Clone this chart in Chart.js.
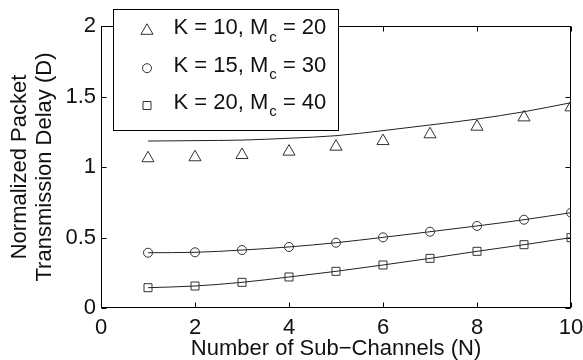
<!DOCTYPE html>
<html>
<head>
<meta charset="utf-8">
<script src="https://cdn.jsdelivr.net/npm/chart.js@4/dist/chart.umd.min.js"></script>
<style>
  html, body { margin: 0; padding: 0; background: #fff; }
  #wrap { width: 583px; height: 360px; position: relative; }
</style>
</head>
<body>
<div id="wrap"><canvas id="c"></canvas></div>
<script>
// ---- data ----
const subChannels = [1, 2, 3, 4, 5, 6, 7, 8, 9, 10];
const simK10 = [1.062, 1.069, 1.085, 1.109, 1.144, 1.184, 1.232, 1.286, 1.352, 1.423];
const anaK10 = [1.184, 1.187, 1.191, 1.204, 1.222, 1.258, 1.298, 1.340, 1.392, 1.456];
const k15 = [0.392, 0.395, 0.411, 0.433, 0.463, 0.501, 0.541, 0.582, 0.626, 0.676];
const k20 = [0.144, 0.156, 0.182, 0.220, 0.260, 0.305, 0.352, 0.402, 0.449, 0.499];
const xTickValues = [0, 2, 4, 6, 8, 10];
const yTickValues = [0, 0.5, 1, 1.5, 2];
const legendMain = ['K = 10, M', 'K = 15, M', 'K = 20, M'];
const legendSub = ['c', 'c', 'c'];
const legendTail = [' = 20', ' = 30', ' = 40'];
const legendMarkers = ['triangle', 'circle', 'rect'];
const xTitle = 'Number of Sub\u2212Channels (N)';
const yTitle = ['Normalized Packet', 'Transmission Delay (D)'];

const FONT = '"Liberation Sans", Arial, Helvetica, sans-serif';
const INK = '#222';

function pts(ys) { return subChannels.map((x, i) => ({ x: x, y: ys[i] })); }

function drawMarker(ctx, style, x, y) {
  ctx.beginPath();
  if (style === 'triangle') {
    const r = 7;
    ctx.moveTo(x, y - r);
    ctx.lineTo(x + r * Math.sin(Math.PI / 3), y + r / 2);
    ctx.lineTo(x - r * Math.sin(Math.PI / 3), y + r / 2);
    ctx.closePath();
  } else if (style === 'circle') {
    ctx.arc(x, y, 4.5, 0, Math.PI * 2);
  } else {
    ctx.rect(x - 4, y - 4, 8, 8);
  }
  ctx.stroke();
}

const frameAndTicks = {
  id: 'frameAndTicks',
  beforeDatasetsDraw(chart) {
    const { ctx, chartArea: a, scales } = chart;
    ctx.save();
    ctx.strokeStyle = '#000';
    ctx.lineWidth = 1;
    const L = Math.round(a.left) + 0.5, R = Math.round(a.right) - 0.5;
    const T = Math.round(a.top) + 0.5, B = Math.round(a.bottom) - 0.5;
    ctx.strokeRect(L, T, R - L, B - T);
    const tl = 5;
    ctx.beginPath();
    scales.x.ticks.forEach(t => {
      const px = Math.round(scales.x.getPixelForValue(t.value)) + 0.5;
      ctx.moveTo(px, B); ctx.lineTo(px, B - tl);
      ctx.moveTo(px, T); ctx.lineTo(px, T + tl);
    });
    scales.y.ticks.forEach(t => {
      const py = Math.round(scales.y.getPixelForValue(t.value)) + 0.5;
      ctx.moveTo(L, py); ctx.lineTo(L + tl, py);
      ctx.moveTo(R, py); ctx.lineTo(R - tl, py);
    });
    ctx.stroke();
    ctx.restore();
  }
};

const matlabLegend = {
  id: 'matlabLegend',
  afterDraw(chart) {
    const ctx = chart.ctx;
    ctx.save();
    const bx = 113.5, by = 9.5, bw = 225, bh = 121;
    ctx.fillStyle = '#fff';
    ctx.fillRect(bx, by, bw, bh);
    ctx.strokeStyle = '#000';
    ctx.lineWidth = 1;
    ctx.strokeRect(bx, by, bw, bh);
    const baselines = [34.3, 71.7, 109];
    ctx.textBaseline = 'alphabetic';
    ctx.textAlign = 'left';
    for (let i = 0; i < legendMain.length; i++) {
      const base = baselines[i];
      ctx.strokeStyle = '#333';
      drawMarker(ctx, legendMarkers[i], 147, base - 3.5);
      ctx.fillStyle = '#111';
      let x = 173.5;
      ctx.font = '22px ' + FONT;
      ctx.fillText(legendMain[i], x, base);
      x += ctx.measureText(legendMain[i]).width + 1;
      ctx.font = '15px ' + FONT;
      ctx.fillText(legendSub[i], x, base + 7.4);
      x += ctx.measureText(legendSub[i]).width;
      ctx.font = '22px ' + FONT;
      ctx.fillText(legendTail[i], x, base);
    }
    ctx.restore();
  }
};

const ctxEl = document.getElementById('c');
new Chart(ctxEl, {
  type: 'scatter',
  data: {
    datasets: [
      {
        label: 'K = 10 analysis',
        data: pts(anaK10),
        showLine: true,
        borderColor: INK,
        borderWidth: 1,
        pointRadius: 0,
        cubicInterpolationMode: 'monotone',
        fill: false
      },
      {
        label: 'K = 10, Mc = 20',
        data: pts(simK10),
        showLine: false,
        pointStyle: 'triangle',
        pointRadius: 7,
        pointBorderWidth: 1,
        pointBorderColor: '#333',
        pointBackgroundColor: 'rgba(0,0,0,0)'
      },
      {
        label: 'K = 15, Mc = 30',
        data: pts(k15),
        showLine: true,
        borderColor: INK,
        borderWidth: 1,
        cubicInterpolationMode: 'monotone',
        pointStyle: 'circle',
        pointRadius: 4.5,
        pointBorderWidth: 1,
        pointBorderColor: '#333',
        pointBackgroundColor: 'rgba(0,0,0,0)'
      },
      {
        label: 'K = 20, Mc = 40',
        data: pts(k20),
        showLine: true,
        borderColor: INK,
        borderWidth: 1,
        cubicInterpolationMode: 'monotone',
        pointStyle: 'rect',
        pointRadius: 5.66,
        pointBorderWidth: 1,
        pointBorderColor: '#333',
        pointBackgroundColor: 'rgba(0,0,0,0)'
      }
    ]
  },
  options: {
    responsive: true,
    maintainAspectRatio: false,
    devicePixelRatio: 1,
    animation: false,
    events: [],
    layout: { padding: { left: 0, right: 12, top: 26, bottom: 0 } },
    plugins: {
      legend: { display: false },
      tooltip: { enabled: false }
    },
    scales: {
      x: {
        type: 'linear',
        min: 0, max: 10,
        afterBuildTicks(scale) { scale.ticks = xTickValues.map(v => ({ value: v })); },
        afterFit(scale) { scale.height = 52; scale.paddingLeft = 0; scale.paddingRight = 0; },
        grid: { display: false, drawTicks: false },
        border: { display: false },
        ticks: {
          color: '#111',
          font: { family: FONT, size: 22 },
          padding: 7,
          maxRotation: 0,
          callback: v => String(v)
        },
        title: {
          display: true,
          text: xTitle,
          color: '#111',
          font: { family: FONT, size: 22, lineHeight: 1.05 },
          padding: { top: 0, bottom: 0 }
        }
      },
      y: {
        type: 'linear',
        min: 0, max: 2,
        afterBuildTicks(scale) { scale.ticks = yTickValues.map(v => ({ value: v })); },
        afterFit(scale) { scale.width = 101; scale.paddingTop = 0; scale.paddingBottom = 0; },
        grid: { display: false, drawTicks: false },
        border: { display: false },
        ticks: {
          color: '#111',
          font: { family: FONT, size: 22 },
          padding: 5,
          callback: v => String(v)
        },
        title: {
          display: true,
          text: yTitle,
          color: '#111',
          font: { family: FONT, size: 22, lineHeight: 1.136 },
          padding: { top: 7.5, bottom: 0 }
        }
      }
    }
  },
  plugins: [frameAndTicks, matlabLegend]
});
</script>
</body>
</html>
